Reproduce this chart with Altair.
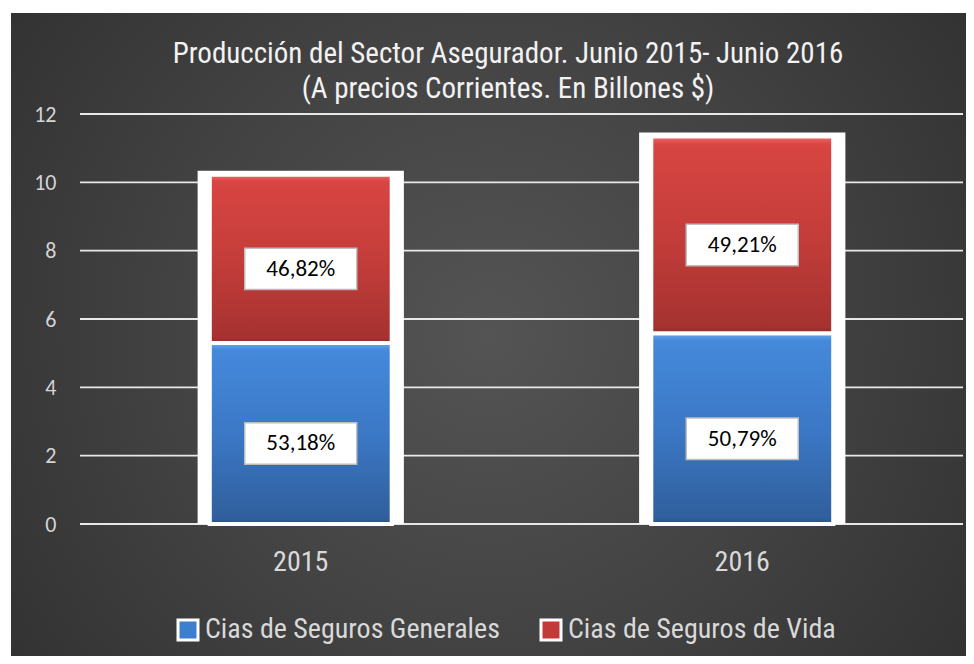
import altair as alt
import pandas as pd

# ---- data ----
years = ["2015", "2016"]
series = ["Cias de Seguros Generales", "Cias de Seguros de Vida"]
generales = [5.30, 5.58]
vida = [4.92, 5.76]
pct_generales = ["53,18%", "50,79%"]
pct_vida = ["46,82%", "49,21%"]
y_ticks = [0, 2, 4, 6, 8, 10, 12]
title_lines = ["Producción del Sector Asegurador. Junio 2015- Junio 2016",
               "(A precios Corrientes. En Billones $)"]

rows = []
for i, yr in enumerate(years):
    rows.append(dict(year=yr, series=series[0], ord=0, value=generales[i], pct=pct_generales[i]))
    rows.append(dict(year=yr, series=series[1], ord=1, value=vida[i], pct=pct_vida[i]))
df = pd.DataFrame(rows)
ticks_df = pd.DataFrame({"t": y_ticks})

W, H = 883, 410
NARROW = "Roboto Condensed, Liberation Sans, sans-serif"
CAL = "Carlito, Lato, sans-serif"

xscale = alt.Scale(domain=years, paddingInner=0.588, paddingOuter=0.294)
yscale = alt.Scale(domain=[0, 12], nice=False)

x_axis = alt.Axis(title=None, labelAngle=0, ticks=False, domain=False, grid=False,
                  labelPadding=24, labelFont=NARROW, labelFontSize=28,
                  labelColor="#d9d9d9", zindex=1)
y_axis = alt.Axis(values=y_ticks, title=None, ticks=False, domain=False, grid=False,
                  labelPadding=24, labelFont=CAL, labelFontSize=22,
                  labelColor="#d4d4d4", zindex=1)

X = alt.X("year:N", scale=xscale, axis=x_axis)

# background radial gradient panel
bg_grad = alt.RadialGradient(
    gradient="radial",
    stops=[alt.GradientStop(color="#545454", offset=0),
           alt.GradientStop(color="#424242", offset=0.45),
           alt.GradientStop(color="#2a2a2a", offset=1)],
    x1=0.5, y1=0.5, x2=0.5, y2=0.5, r1=0, r2=0.75,
)
bg = alt.Chart(alt.Data(values=[{"k": 1}])).mark_rect(fill=bg_grad).encode(
    x=alt.value(-69), x2=alt.value(W + 3), y=alt.value(-101), y2=alt.value(H + 132)
)

title = alt.Chart(alt.Data(values=[{"k": 1}])).mark_text(
    text=title_lines, font=NARROW, fontSize=29, color="#f2f2f2", align="center",
    baseline="alphabetic", lineHeight=35,
).encode(x=alt.value(428), y=alt.value(-51))

grid = alt.Chart(ticks_df).mark_rule(color="#e8e8e8", strokeWidth=1.8).encode(
    y=alt.Y("t:Q", scale=yscale, axis=y_axis),
    x=alt.value(0), x2=alt.value(W),
)

base = alt.Chart(df).transform_stack(
    stack="value", groupby=["year"], as_=["y0", "y1"],
    sort=[alt.SortField("ord", order="ascending")],
)

frame = alt.Chart(df).transform_aggregate(
    total="sum(value)", groupby=["year"]
).mark_bar(color="white", stroke="white", strokeWidth=8, width=alt.RelativeBandSize(1.09), clip=True).encode(
    x=X,
    y=alt.Y("total:Q", scale=yscale, axis=y_axis),
    y2=alt.datum(0),
)

colors = ["#3d7fcf", "#c23b38"]
segs = base.mark_bar(stroke="white", strokeWidth=4).encode(
    x=X,
    y=alt.Y("y1:Q", scale=yscale, axis=y_axis),
    y2="y0:Q",
    color=alt.Color("series:N", scale=alt.Scale(domain=series, range=colors),
                    legend=alt.Legend(title=None, orient="none", legendX=94, legendY=502,
                                      direction="horizontal", symbolType="square",
                                      symbolSize=400, symbolStrokeColor="white",
                                      symbolStrokeWidth=3, symbolOpacity=1,
                                      labelFont=NARROW, labelFontSize=28, labelLimit=0,
                                      labelColor="#d9d9d9", columnPadding=35,
                                      labelOffset=3)),
)

blue_grad = alt.LinearGradient(
    gradient="linear", x1=0, y1=0, x2=0, y2=1,
    stops=[alt.GradientStop(color="#6aa6ec", offset=0),
           alt.GradientStop(color="#4589db", offset=0.04),
           alt.GradientStop(color="#3b78c6", offset=0.5),
           alt.GradientStop(color="#305f9c", offset=0.97),
           alt.GradientStop(color="#27508a", offset=1)],
)
red_grad = alt.LinearGradient(
    gradient="linear", x1=0, y1=0, x2=0, y2=1,
    stops=[alt.GradientStop(color="#ee6a66", offset=0),
           alt.GradientStop(color="#d84542", offset=0.04),
           alt.GradientStop(color="#c43d3a", offset=0.5),
           alt.GradientStop(color="#a53230", offset=0.97),
           alt.GradientStop(color="#8e2a28", offset=1)],
)

def overlay(name, grad):
    return base.transform_filter(alt.datum.series == name).mark_bar(
        fill=grad, stroke="white", strokeWidth=4
    ).encode(
        x=X,
        y=alt.Y("y1:Q", scale=yscale, axis=y_axis),
        y2="y0:Q",
    )

blue_ov = overlay(series[0], blue_grad)
red_ov = overlay(series[1], red_grad)

lab_base = base.transform_calculate(mid="(datum.y0 + datum.y1) / 2")
boxes = lab_base.mark_point(
    shape="M-1,-0.37H1V0.37H-1Z", size=12544, filled=True, fill="white",
    stroke="#bdbdbd", strokeWidth=1.5, opacity=1, yOffset=10,
).encode(
    x=X,
    y=alt.Y("mid:Q", scale=yscale, axis=y_axis),
)
texts = lab_base.mark_text(
    font=CAL, fontSize=23, color="black", yOffset=10, baseline="middle"
).encode(
    x=X,
    y=alt.Y("mid:Q", scale=yscale, axis=y_axis),
    text="pct:N",
)

chart = alt.layer(bg, grid, frame, segs, blue_ov, red_ov, boxes, texts, title).properties(
    width=W, height=H,
    autosize=alt.AutoSizeParams(type="none"),
    padding={"left": 72, "top": 106, "right": 3, "bottom": 132},
    background="#ffffff",
).configure_view(stroke=None)

chart.save("out.html", embed_options={"renderer": "svg", "actions": False})
